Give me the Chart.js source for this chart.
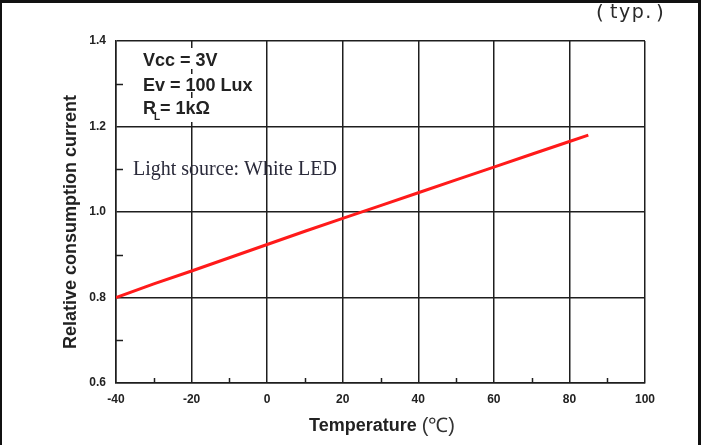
<!DOCTYPE html>
<html>
<head>
<meta charset="utf-8">
<script src="https://cdn.jsdelivr.net/npm/chart.js@4.4.0/dist/chart.umd.min.js"></script>
<style>
html,body{margin:0;padding:0;background:#fff;}
#wrap{position:relative;width:705px;height:445px;}
canvas{display:block;}
</style>
</head>
<body>
<div id="wrap"><canvas id="c" width="705" height="445"></canvas></div>
<script>
// Data
const temperatures = [-40, -30, -20, -10, 0, 10, 20, 30, 40, 50, 60, 70, 80, 85];
const relCurrent   = [0.800, 0.832, 0.862, 0.893, 0.924, 0.955, 0.985, 1.015, 1.045, 1.075, 1.105, 1.135, 1.165, 1.180];
const xMinorTicks = [-30, -10, 10, 30, 50, 70, 90];
const yMinorTicks = [0.7, 0.9, 1.1, 1.3];
const conditionLines = ['Vcc = 3V', 'Ev = 100 Lux'];
const lightSource = 'Light source: White LED';

const points = temperatures.map((t, i) => ({x: t, y: relCurrent[i]}));
const INK = '#1e1e1e';

const decor = {
  id: 'decor',
  afterDraw(chart) {
    const ctx = chart.ctx;
    const xs = chart.scales.x, ys = chart.scales.y;
    const area = chart.chartArea;
    ctx.save();
    // minor ticks
    ctx.strokeStyle = INK; ctx.lineWidth = 1.5;
    xMinorTicks.forEach(v => {
      const px = Math.round(xs.getPixelForValue(v)) + 0.5;
      ctx.beginPath(); ctx.moveTo(px, area.bottom); ctx.lineTo(px, area.bottom - 5); ctx.stroke();
    });
    yMinorTicks.forEach(v => {
      const py = Math.round(ys.getPixelForValue(v)) + 0.5;
      ctx.beginPath(); ctx.moveTo(area.left, py); ctx.lineTo(area.left + 7, py); ctx.stroke();
    });
    // white backing behind condition text
    ctx.fillStyle = '#fff';
    ctx.fillRect(125, 48, 140, 21);
    ctx.fillRect(125, 74, 140, 18);
    ctx.fillRect(125, 98, 140, 24);
    // condition text
    ctx.fillStyle = '#222';
    ctx.textBaseline = 'alphabetic';
    ctx.textAlign = 'left';
    const fc = 'bold 18px "Liberation Sans", Arial, sans-serif';
    ctx.font = fc;
    ctx.fillText(conditionLines[0], 143, 66);
    ctx.fillText(conditionLines[1], 143, 91);
    ctx.fillText('R', 143, 114);
    const rw = ctx.measureText('R').width;
    ctx.font = 'bold 10px "Liberation Sans", Arial, sans-serif';
    ctx.fillText('L', 143 + rw - 2, 120);
    ctx.font = fc;
    ctx.fillText('= 1k\u03A9', 143 + rw + 4, 114);
    // light source (serif)
    ctx.font = '20px "Liberation Serif", "Times New Roman", serif';
    ctx.fillStyle = '#2a2a3a';
    ctx.fillText(lightSource, 133, 175);
    // x title
    ctx.fillStyle = '#222';
    const f1 = 'bold 18px "Liberation Sans", Arial, sans-serif';
    const f2 = '20px "Liberation Sans", Arial, sans-serif';
    ctx.font = f1;
    const t1 = 'Temperature ';
    const w1 = ctx.measureText(t1).width;
    ctx.font = f2;
    const t2 = '(\u2103)';
    const w2 = ctx.measureText(t2).width;
    const x0 = 382 - (w1 + w2) / 2;
    ctx.font = f1;
    ctx.fillText(t1, x0, 431);
    ctx.font = f2;
    ctx.fillStyle = '#333';
    ctx.fillText(t2, x0 + w1, 432);
    // y title
    ctx.save();
    ctx.translate(76, 222);
    ctx.rotate(-Math.PI / 2);
    ctx.textAlign = 'center';
    ctx.fillStyle = '#222';
    ctx.font = 'bold 18px "Liberation Sans", Arial, sans-serif';
    ctx.fillText('Relative consumption current', 0, 0);
    ctx.restore();
    // (typ.)
    ctx.fillStyle = '#2a2a2a';
    ctx.textAlign = 'left';
    ctx.font = '20px "DejaVu Sans", sans-serif';
    ctx.fillText('(', 596, 19);
    ctx.font = '19px "DejaVu Sans", sans-serif';
    if ('letterSpacing' in ctx) ctx.letterSpacing = '1.5px';
    ctx.fillText('typ.', 610, 18);
    if ('letterSpacing' in ctx) ctx.letterSpacing = '0px';
    ctx.font = '20px "DejaVu Sans", sans-serif';
    ctx.fillText(')', 656, 19);
    // frame
    ctx.fillStyle = '#111';
    ctx.fillRect(0, 0, 701, 3);
    ctx.fillRect(0, 0, 2, 445);
    ctx.fillRect(698, 0, 3, 445);
    ctx.restore();
  }
};

new Chart(document.getElementById('c'), {
  type: 'line',
  data: {
    datasets: [{
      data: points,
      borderColor: '#ff1a1a',
      borderWidth: 3,
      pointRadius: 0,
      tension: 0,
      fill: false
    }]
  },
  options: {
    responsive: false,
    animation: false,
    devicePixelRatio: 1,
    layout: {padding: {top: 41, right: 60, bottom: 0, left: 0}},
    plugins: {legend: {display: false}, tooltip: {enabled: false}},
    scales: {
      x: {
        type: 'linear', min: -40, max: 100,
        ticks: {stepSize: 20, color: '#222', padding: 9, maxRotation: 0,
                font: {family: '"Liberation Sans", Arial, sans-serif', size: 12, weight: 'bold'}},
        grid: {color: INK, lineWidth: 1.5, drawTicks: false},
        border: {color: INK, width: 1.5},
        afterFit(s) { s.height = 62; }
      },
      y: {
        min: 0.6, max: 1.4,
        ticks: {stepSize: 0.2, color: '#222', padding: 10,
                callback: v => v.toFixed(1),
                font: {family: '"Liberation Sans", Arial, sans-serif', size: 12, weight: 'bold'}},
        grid: {color: INK, lineWidth: 1.5, drawTicks: false},
        border: {color: INK, width: 1.5},
        afterFit(s) { s.width = 116; }
      }
    }
  },
  plugins: [decor]
});
</script>
</body>
</html>
